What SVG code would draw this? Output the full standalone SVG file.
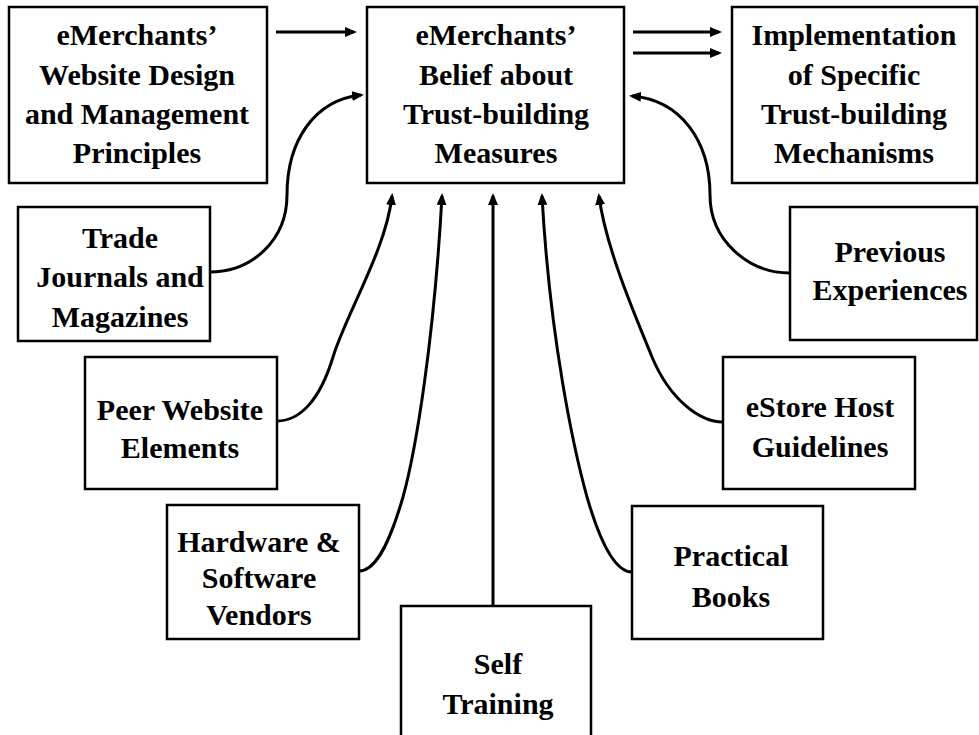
<svg xmlns="http://www.w3.org/2000/svg" width="979" height="735" viewBox="0 0 979 735">
<style>
.box{fill:#fff;stroke:#000;stroke-width:2.5}
.t{font-family:"Liberation Serif","Times New Roman",serif;font-weight:bold;font-size:30px;fill:#000;text-anchor:middle}
.c{fill:none;stroke:#000;stroke-width:3}
</style>
<defs>
<marker id="ah" viewBox="0 0 12 10" refX="9" refY="5" markerWidth="12" markerHeight="10" markerUnits="userSpaceOnUse" orient="auto">
<path d="M0,0 L12,5 L0,10 z" fill="#000"/>
</marker>
</defs>
<rect width="979" height="735" fill="#fff"/>
<g id="n-principles">
<rect class="box" x="9" y="7" width="258" height="176"/>
<text class="t" x="137" y="45">eMerchants’</text>
<text class="t" x="137" y="85">Website Design</text>
<text class="t" x="137" y="124">and Management</text>
<text class="t" x="137" y="163">Principles</text>
</g>
<g id="n-belief">
<rect class="box" x="367" y="7" width="257" height="176"/>
<text class="t" x="496" y="45">eMerchants’</text>
<text class="t" x="496" y="85">Belief about</text>
<text class="t" x="496" y="124">Trust-building</text>
<text class="t" x="496" y="163">Measures</text>
</g>
<g id="n-implementation">
<rect class="box" x="732" y="7" width="245" height="176"/>
<text class="t" x="854" y="45">Implementation</text>
<text class="t" x="854" y="85">of Specific</text>
<text class="t" x="854" y="124">Trust-building</text>
<text class="t" x="854" y="163">Mechanisms</text>
</g>
<g id="n-trade">
<rect class="box" x="18" y="207" width="192" height="134"/>
<text class="t" x="120" y="248">Trade</text>
<text class="t" x="120" y="287">Journals and</text>
<text class="t" x="120" y="327">Magazines</text>
</g>
<g id="n-previous">
<rect class="box" x="790" y="207" width="187" height="133"/>
<text class="t" x="890" y="262">Previous</text>
<text class="t" x="890" y="300">Experiences</text>
</g>
<g id="n-peer">
<rect class="box" x="85" y="357" width="192" height="132"/>
<text class="t" x="180" y="420">Peer Website</text>
<text class="t" x="180" y="458">Elements</text>
</g>
<g id="n-estore">
<rect class="box" x="723" y="357" width="192" height="132"/>
<text class="t" x="820" y="417">eStore Host</text>
<text class="t" x="820" y="457">Guidelines</text>
</g>
<g id="n-hardware">
<rect class="box" x="167" y="505" width="192" height="134"/>
<text class="t" x="259" y="552">Hardware &amp;</text>
<text class="t" x="259" y="588">Software</text>
<text class="t" x="259" y="625">Vendors</text>
</g>
<g id="n-practical">
<rect class="box" x="632" y="506" width="191" height="133"/>
<text class="t" x="731" y="566">Practical</text>
<text class="t" x="731" y="607">Books</text>
</g>
<g id="n-self">
<rect class="box" x="401" y="606" width="190" height="140"/>
<text class="t" x="498" y="674">Self</text>
<text class="t" x="498" y="714">Training</text>
</g>
<g id="connectors">
<path class="c" marker-end="url(#ah)" d="M276,32 L354,32"/>
<path class="c" marker-end="url(#ah)" d="M633,32 L719,32"/>
<path class="c" marker-end="url(#ah)" d="M633,53 L719,53"/>
<path class="c" marker-end="url(#ah)" d="M210,272 C252,272 287,240 287,195 C287,140 315,100 361,95"/>
<path class="c" marker-end="url(#ah)" d="M790,273 C748,273 710,240 710,195 C710,140 680,100 632,96"/>
<path class="c" marker-end="url(#ah)" d="M277,421 C300,421 320,400 333,357 C346,314 386,250 392,196"/>
<path class="c" marker-end="url(#ah)" d="M359,571 C378,571 392,535 403,497 C416,450 434,340 442,196"/>
<path class="c" marker-end="url(#ah)" d="M493,606 L493,196"/>
<path class="c" marker-end="url(#ah)" d="M632,572 C613,572 598,535 587,497 C574,450 550,340 542,196"/>
<path class="c" marker-end="url(#ah)" d="M723,422 C700,422 670,400 652,357 C638,322 606,250 599,196"/>
</g>
</svg>
